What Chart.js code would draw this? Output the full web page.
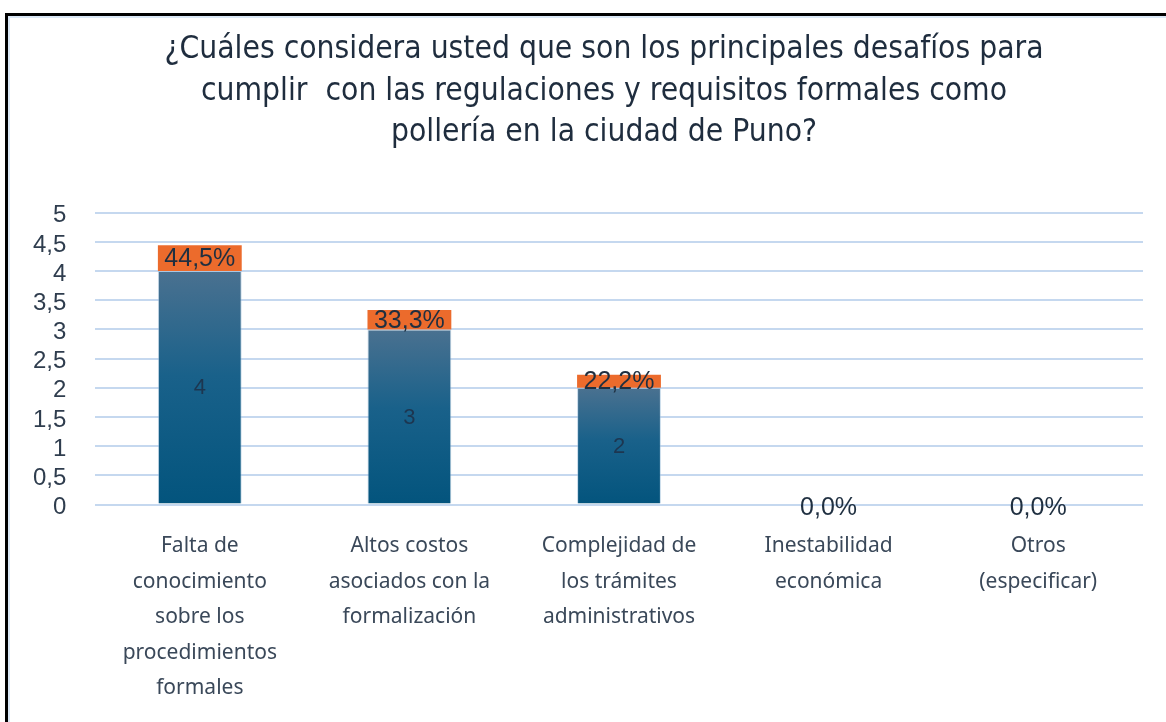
<!DOCTYPE html>
<html>
<head>
<meta charset="utf-8">
<script src="https://cdn.jsdelivr.net/npm/chart.js@4"></script>
<style>
  html, body { margin: 0; padding: 0; background: #fff; }
  body { width: 1166px; height: 722px; position: relative; overflow: hidden; }
  .frame { position: absolute; left: 5px; top: 13px; width: 1200px; height: 800px;
           border-left: 3px solid #000; border-top: 3px solid #000; }
  .frame-in { position: absolute; left: 8px; top: 16px; width: 1200px; height: 800px;
              border-left: 2px solid #dbe8f6; border-top: 2px solid #dbe8f6; }
  .wrap { position: absolute; left: 0; top: 0; width: 1166px; height: 722px; }
</style>
</head>
<body>
<div class="frame"></div>
<div class="frame-in"></div>
<div class="wrap"><canvas id="barChart"></canvas></div>
<script>
// ---data---
var categories = [
  ["Falta de", "conocimiento", "sobre los", "procedimientos", "formales"],
  ["Altos costos", "asociados con la", "formalización"],
  ["Complejidad de", "los trámites", "administrativos"],
  ["Inestabilidad", "económica"],
  ["Otros", "(especificar)"]
];
var counts = [4, 3, 2, 0, 0];
var percents = [0.445, 0.333, 0.222, 0, 0];
var yMax = 5;
var yStep = 0.5;
var titleLines = [
  "¿Cuáles considera usted que son los principales desafíos para",
  "cumplir  con las regulaciones y requisitos formales como",
  "pollería en la ciudad de Puno?"
];

function commaNum(v) {
  return String(v).replace(".", ",");
}

// ---gradient for each bar (top light, bottom dark)---
function blueFill(context) {
  var chart = context.chart;
  var area = chart.chartArea;
  if (!area) return "#0b5a82";
  var y = chart.scales.y;
  var v = counts[context.dataIndex] || 0;
  var top = y.getPixelForValue(v);
  var bottom = y.getPixelForValue(0);
  if (bottom - top < 1) return "#0b5a82";
  var g = chart.ctx.createLinearGradient(0, top, 0, bottom);
  g.addColorStop(0, "#4a7190");
  g.addColorStop(0.45, "#19618a");
  g.addColorStop(1, "#03547d");
  return g;
}

// ---value labels---
var valueLabels = {
  id: "valueLabels",
  afterDatasetsDraw: function (chart) {
    var ctx = chart.ctx;
    ctx.save();
    ctx.textAlign = "center";
    ctx.textBaseline = "middle";
    chart.data.datasets.forEach(function (ds, di) {
      var meta = chart.getDatasetMeta(di);
      meta.data.forEach(function (el, i) {
        var v = ds.data[i];
        var text;
        if (di === 0) {
          if (!v) return;
          text = String(v);
          ctx.font = "22px 'Liberation Sans', Arial, sans-serif";
          ctx.fillStyle = "#1d3650";
        } else {
          text = commaNum((v * 100).toFixed(1)) + "%";
          ctx.font = "25px 'Liberation Sans', Arial, sans-serif";
          ctx.fillStyle = "#1f2f40";
        }
        var yMid = (el.y + el.base) / 2;
        if (di === 1 && !v) yMid = el.base + 3;
        ctx.fillText(text, el.x, yMid + 1);
      });
    });
    ctx.restore();
  }
};

var ctxB = document.getElementById("barChart").getContext("2d");
var myBarChart = new Chart(ctxB, {
  type: "bar",
  data: {
    labels: categories,
    datasets: [
      {
        label: "Cantidad",
        data: counts,
        backgroundColor: blueFill,
        borderColor: "rgba(150,185,215,0.55)",
        borderWidth: 1,
        barPercentage: 0.4,
        categoryPercentage: 1.0
      },
      {
        label: "Porcentaje",
        data: percents,
        backgroundColor: "#ec6b2c",
        borderWidth: 0,
        barPercentage: 0.4,
        categoryPercentage: 1.0
      }
    ]
  },
  options: {
    responsive: true,
    maintainAspectRatio: false,
    animation: false,
    layout: { padding: { left: 65, right: 23, top: 0, bottom: 0 } },
    plugins: {
      legend: { display: false },
      tooltip: { enabled: false },
      title: {
        display: true,
        text: titleLines,
        color: "#1f2d3e",
        font: { family: "'Liberation Sans Narrow', 'DejaVu Sans Condensed', sans-serif", size: 31.5, weight: "normal", lineHeight: 1.32 },
        padding: { top: 29, bottom: 59 }
      }
    },
    scales: {
      x: {
        stacked: true,
        grid: { display: false, drawTicks: false },
        border: { display: false },
        afterFit: function (scale) { scale.height = 217.5; },
        ticks: {
          color: "#3a4859",
          padding: 24,
          maxRotation: 0,
          autoSkip: false,
          font: { family: "'Noto Sans', sans-serif", size: 21, lineHeight: 1.69 }
        }
      },
      y: {
        stacked: true,
        min: 0,
        max: yMax,
        afterFit: function (scale) { scale.width = 30; },
        grid: { color: "#c5d8ef", lineWidth: 2, drawTicks: false },
        border: { display: false },
        ticks: {
          stepSize: yStep,
          autoSkip: false,
          mirror: true,
          crossAlign: "far",
          labelOffset: 3,
          color: "#2f3d4e",
          padding: -62,
          font: { family: "'Liberation Sans', Arial, sans-serif", size: 24 },
          callback: function (v) { return commaNum(v); }
        }
      }
    }
  },
  plugins: [valueLabels]
});
</script>
</body>
</html>
